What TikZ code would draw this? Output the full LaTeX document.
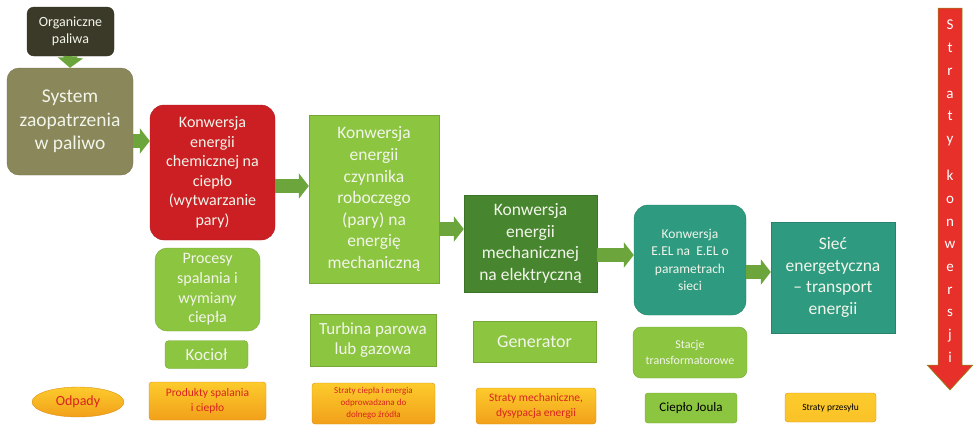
\documentclass[tikz,border=0pt]{standalone}
\usepackage{fontspec}
\setmainfont{Carlito}
\usetikzlibrary{shapes.geometric,arrows.meta}
\definecolor{orgC}{HTML}{3B3A28}
\definecolor{sysC}{HTML}{8A875A}
\definecolor{redC}{HTML}{CC1F24}
\definecolor{lgC}{HTML}{8CC540}
\definecolor{dgC}{HTML}{47862F}
\definecolor{tealC}{HTML}{2E9A80}
\definecolor{arrC}{HTML}{6BA53C}
\definecolor{txtC}{HTML}{F2F5EA}
\definecolor{ornTop}{HTML}{FCCB2C}
\definecolor{ornBot}{HTML}{F2A01A}
\definecolor{redTxt}{HTML}{D8231F}
\definecolor{bigRed}{HTML}{E8302B}
\newcommand{\fsz}[2]{\fontsize{#1}{#2}\selectfont}
\tikzset{
  box/.style={align=center, inner sep=1pt, text=txtC, minimum width=#1},
  flat/.style={fill=#1, draw=#1!85!black, line width=0.4pt},
  orn/.style={top color=ornTop, bottom color=ornBot, draw=ornBot!90!black, line width=0.4pt, rounded corners=3pt, align=center, inner sep=1pt, text=redTxt},
  flow/.style={draw=arrC, line width=14pt, -{Triangle[width=25pt,length=10pt]}},
}
\begin{document}
\begin{tikzpicture}[x=1pt,y=-1pt]
\useasboundingbox (0,0) rectangle (976,424);
% top chain
\node[box=87pt, flat=orgC, rounded corners=7pt, minimum height=49pt, font=\fsz{14}{17}] (org) at (70.5,31.5) {Organiczne\\paliwa};
\node[box=126pt, flat=sysC, rounded corners=12pt, minimum height=107pt, font=\fsz{19.5}{23.5}] (sys) at (70,121.5) {System\\zaopatrzenia\\w paliwo};
\node[box=125pt, flat=redC, rounded corners=14pt, minimum height=135pt, font=\fsz{16}{19.5}] (red) at (212.5,172.5) {Konwersja\\energii\\chemicznej na\\ciepło\\(wytwarzanie\\pary)};
\node[box=130pt, flat=lgC, minimum height=168pt, font=\fsz{17.5}{21.6}] (lg) at (374,199) {Konwersja\\energii\\czynnika\\roboczego\\(pary) na\\energię\\mechaniczną};
\node[box=133pt, flat=dgC, minimum height=97pt, font=\fsz{17.5}{21.6}] (dg) at (530.5,243.5) {Konwersja\\energii\\mechanicznej\\na elektryczną};
\node[box=112pt, flat=tealC, rounded corners=14pt, minimum height=110pt, font=\fsz{13.5}{17.5}] (tl) at (690,260) {Konwersja\\E.EL na~ E.EL o\\parametrach\\sieci};
\node[box=124pt, flat=tealC, minimum height=111pt, font=\fsz{17.5}{21.6}] (tr) at (833,277.5) {Sieć\\energetyczna\\– transport\\energii};
% second row
\node[box=105pt, flat=lgC, rounded corners=12pt, minimum height=83pt, font=\fsz{16}{19.7}] (proc) at (207.5,289.5) {Procesy\\spalania i\\wymiany\\ciepła};
\node[box=83pt, flat=lgC, rounded corners=4pt, minimum height=28pt, font=\fsz{17}{20}] (koc) at (206.5,354.5) {Kocioł};
\node[box=126pt, flat=lgC, minimum height=52pt, font=\fsz{17}{20.7}] (turb) at (373,340) {Turbina parowa\\lub gazowa};
\node[box=123pt, flat=lgC, minimum height=41pt, font=\fsz{18}{21}] (gen) at (534.5,341.5) {Generator};
\node[box=114pt, flat=lgC, rounded corners=8pt, minimum height=51pt, font=\fsz{12}{16}] (stac) at (690,352.5) {Stacje\\transformatorowe};
% bottom row
\node[ellipse, top color=ornTop, bottom color=ornBot, draw=ornBot!90!black, line width=0.4pt, minimum width=92pt, minimum height=30pt, inner sep=0pt, text=redTxt, font=\fsz{14}{16}] (odp) at (78,402) {Odpady};
\node[orn, minimum width=117pt, minimum height=38pt, font=\fsz{11.5}{15}] (prod) at (207.5,401) {Produkty spalania\\i ciepło};
\node[orn, minimum width=123pt, minimum height=41pt, font=\fsz{9}{12}] (strc) at (373.5,403.5) {Straty ciepła i energia\\odprowadzana do\\dolnego źródła};
\node[orn, minimum width=120pt, minimum height=36pt, font=\fsz{11.5}{14.5}] (strm) at (536,406) {Straty mechaniczne,\\dysypacja energii};
\node[flat=lgC, rounded corners=3pt, minimum width=92pt, minimum height=30pt, inner sep=1pt, text=black, font=\fsz{13}{15}] (joul) at (691,408) {Ciepło Joula};
\node[top color=ornTop, bottom color=ornTop!80!ornBot, draw=ornBot!90!black, line width=0.4pt, rounded corners=3pt, minimum width=91pt, minimum height=29pt, inner sep=1pt, text=black, font=\fsz{9.5}{12}] (przes) at (830.5,407.5) {Straty przesyłu};
% flow arrows
\draw[flow] (org.south) -- (sys.north);
\draw[flow] (sys.east |- 0,141) -- (red.west |- 0,141);
\draw[flow] (red.east |- 0,186) -- (lg.west |- 0,186);
\draw[flow] (lg.east |- 0,229) -- (dg.west |- 0,229);
\draw[flow] (dg.east |- 0,255) -- (tl.west |- 0,255);
\draw[flow] (tl.east |- 0,272) -- (tr.west |- 0,272);
% losses arrow
\fill[bigRed, draw=olive!70!green, line width=0.5pt] (938,8) -- (962,8) -- (962,365) -- (973,365) -- (950,390) -- (927,365) -- (938,365) -- cycle;
\node[align=center, text=white, inner sep=0pt, anchor=north, font=\fsz{15}{22.7}] (strl) at (950,20) {S\\t\\r\\a\\t\\y\\[14.5pt]k\\o\\n\\w\\e\\r\\s\\j\\i};
\end{tikzpicture}
\end{document}
